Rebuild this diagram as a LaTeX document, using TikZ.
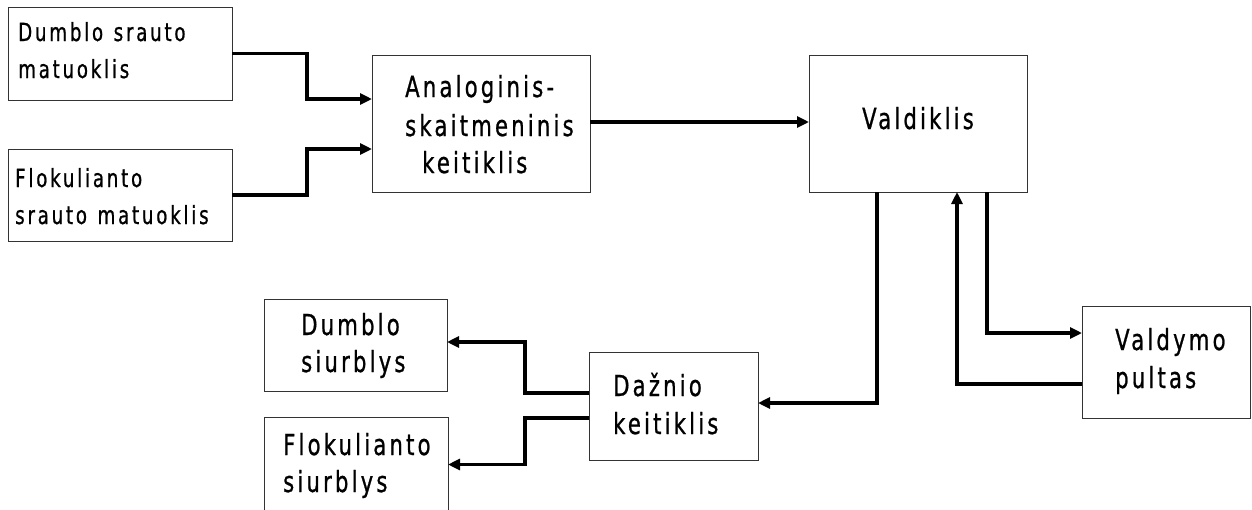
\documentclass[tikz,border=0pt]{standalone}
\usepackage{fontspec}
\newfontfamily\lbl[FakeStretch=0.73,LetterSpace=11,FakeBold=0.8]{DejaVu Sans}
\usetikzlibrary{arrows.meta}
\begin{document}
\begin{tikzpicture}[x=1pt,y=-1pt,
  box/.style={draw=black!80, line width=1pt, rectangle, inner sep=0pt, outer sep=0pt},
  txt/.style={font=\lbl\fontsize{29}{30}\selectfont, inner sep=0pt, anchor=base west},
  smalltxt/.style={txt, font=\lbl\fontsize{25}{30}\selectfont},
  arr/.style={line width=3.2pt, line join=miter, -{Triangle[length=12pt,width=11pt]}}]
\useasboundingbox (0,0) rectangle (1252,509);
\fill[white] (0,0) rectangle (1252,509);
% boxes
\node[box, minimum width=224pt, minimum height=93pt] (dm) at (120,53.5) {};
\node[box, minimum width=224pt, minimum height=92pt] (fm) at (120,195) {};
\node[box, minimum width=218pt, minimum height=137pt] (adc) at (481,123.5) {};
\node[box, minimum width=218pt, minimum height=137pt] (vald) at (918,123.5) {};
\node[box, minimum width=168pt, minimum height=112pt] (pult) at (1166,362) {};
\node[box, minimum width=183pt, minimum height=92pt] (ds) at (355.5,345) {};
\node[box, minimum width=184pt, minimum height=95pt] (fs) at (356,464.5) {};
\node[box, minimum width=169pt, minimum height=108pt] (dazn) at (673.5,406) {};
% texts
\node[smalltxt] (dm1) at (18,41) {Dumblo\hspace{2pt} srauto};
\node[smalltxt] (dm2) at (18,78) {matuoklis};
\node[smalltxt] (fm1) at (15,187) {Flokulianto};
\node[smalltxt] (fm2) at (15,224) {srauto\hspace{2pt} matuoklis};
\node[txt] (adc1) at (405,97) {Analoginis-};
\node[txt] (adc2) at (405,136) {skaitmeninis};
\node[txt] (adc3) at (422,173) {keitiklis};
\node[txt] (vald1) at (862,129) {Valdiklis};
\node[txt] (pult1) at (1115,350) {Valdymo};
\node[txt] (pult2) at (1115,388) {pultas};
\node[txt] (ds1) at (301,335) {Dumblo};
\node[txt] (ds2) at (301,372) {siurblys};
\node[txt] (fs1) at (283,455) {Flokulianto};
\node[txt] (fs2) at (283,492) {siurblys};
\node[txt] (dazn1) at (613,396) {Dažnio};
\node[txt] (dazn2) at (613,434) {keitiklis};
% connectors
\draw[arr] (dm.east) -- ++(75,0) |- ([yshift=24.5pt]adc.west);
\draw[arr] (fm.east) -- ++(75,0) |- ([yshift=-25.5pt]adc.west);
\draw[arr] ([yshift=1.5pt]adc.east) -- ([yshift=1.5pt]vald.west);
\draw[arr] ([xshift=-41pt]vald.south) |- ([yshift=3pt]dazn.east);
\draw[arr] ([xshift=69pt]vald.south) |- ([yshift=29pt]pult.west);
\draw[arr] ([yshift=-22pt]pult.west) -| ([xshift=39pt]vald.south);
\draw[arr] ([yshift=13pt]dazn.west) -- ++(-64,0) |- ([yshift=3pt]ds.east);
\draw[arr] ([yshift=-12pt]dazn.west) -- ++(-64,0) |- (fs.east);
\end{tikzpicture}
\end{document}
